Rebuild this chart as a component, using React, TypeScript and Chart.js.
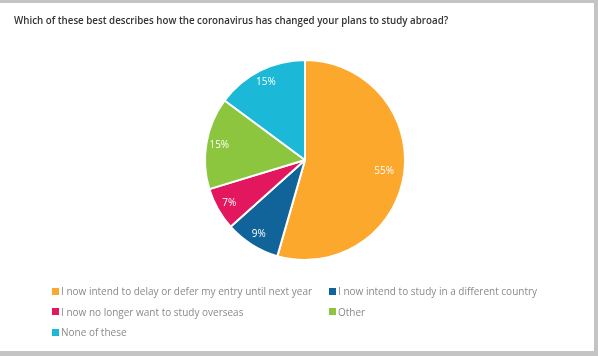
import React, { useEffect, useRef } from "react";
import { Chart, registerables } from "chart.js";

Chart.register(...registerables);

const TITLE = "Which of these best describes how the coronavirus has changed your plans to study abroad?";
const categories = [
  "I now intend to delay or defer my entry until next year",
  "I now intend to study in a different country",
  "I now no longer want to study overseas",
  "Other",
  "None of these",
];
const values = [55, 9, 7, 15, 15];
const colors = ["#FBA82C", "#10649A", "#E3175E", "#8CC63E", "#1CB8D8"];

const labelPlugin = {
  id: "sliceLabels",
  afterDatasetsDraw(chart: any) {
    const ctx = chart.ctx;
    const meta = chart.getDatasetMeta(0);
    ctx.save();
    ctx.fillStyle = "#ffffff";
    ctx.font = "10px 'Open Sans', sans-serif";
    ctx.textAlign = "center";
    ctx.textBaseline = "middle";
    meta.data.forEach((arc: any, i: number) => {
      const p = arc.getProps(["x", "y", "startAngle", "endAngle", "outerRadius"], true);
      const mid = (p.startAngle + p.endAngle) / 2;
      const r = p.outerRadius * (values[i] > 50 ? 0.8 : 0.87);
      ctx.fillText(values[i] + "%", p.x + Math.cos(mid) * r, p.y + Math.sin(mid) * r);
    });
    ctx.restore();
  },
};

export default function App() {
  const ref = useRef<HTMLCanvasElement>(null);
  useEffect(() => {
    document.body.style.margin = "0";
    const chart = new Chart(ref.current!, {
      type: "pie",
      data: {
        labels: categories,
        datasets: [
          {
            data: values,
            backgroundColor: colors,
            borderColor: "#ffffff",
            borderWidth: 2,
          },
        ],
      },
      options: {
        responsive: false,
        animation: false,
        layout: { padding: { left: 204, right: 192, top: 59, bottom: 95 } },
        plugins: { legend: { display: false }, tooltip: { enabled: false }, title: { display: false } },
      },
      plugins: [labelPlugin],
    });
    return () => chart.destroy();
  }, []);

  const font = "'Open Sans', sans-serif";
  return (
    <div style={{ position: "absolute", left: 0, top: 0, width: 598, height: 356, background: "#c4c4c4", overflow: "hidden" }}>
      <div style={{ position: "absolute", left: 0, top: 3, width: 594, height: 348, background: "#ffffff" }} />
      <canvas ref={ref} width={598} height={356} style={{ position: "absolute", left: 0, top: 0 }} />
      <div style={{ position: "absolute", left: 14, top: 14, fontFamily: font, fontSize: 9.75, fontWeight: 600, color: "#333", whiteSpace: "nowrap" }}>
        {TITLE}
      </div>
      {categories.map((c, i) => {
        const col = i % 2;
        const row = Math.floor(i / 2);
        return (
          <div
            key={c}
            style={{
              position: "absolute",
              left: col === 0 ? 52 : 329,
              top: 284 + row * 20.5,
              display: "flex",
              alignItems: "center",
              fontFamily: font,
              fontSize: 10,
              color: "#8a8a8a",
              whiteSpace: "nowrap",
              lineHeight: "14px",
            }}
          >
            <span style={{ display: "inline-block", width: 7, height: 7, background: colors[i], marginRight: 2 }} />
            {c}
          </div>
        );
      })}
    </div>
  );
}
